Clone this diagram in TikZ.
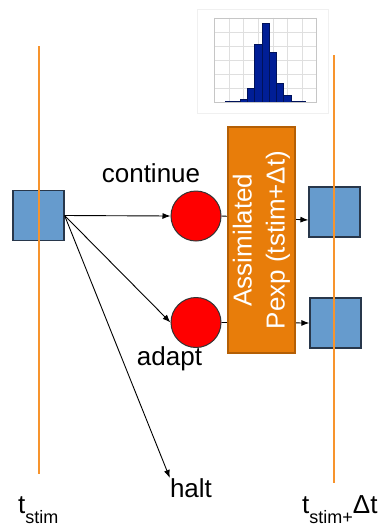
\documentclass[tikz,border=0pt]{standalone}
\usepackage{fontspec}
\setmainfont{Liberation Sans}
\usetikzlibrary{arrows.meta}
\definecolor{timeline}{RGB}{247,148,45}
\definecolor{boxblue}{RGB}{102,155,205}
\definecolor{boxedge}{RGB}{40,55,75}
\definecolor{assim}{RGB}{232,125,10}
\definecolor{assimedge}{RGB}{180,95,5}
\definecolor{barblue}{RGB}{0,30,150}
\tikzset{
  state/.style={draw=boxedge, line width=1.2pt, fill=boxblue, minimum width=51pt, minimum height=50pt, inner sep=0pt},
  choice/.style={circle, draw=black!80, line width=1pt, fill=red, minimum size=50pt, inner sep=0pt},
  lbl/.style={inner sep=0pt, font=\fontsize{26}{30}\selectfont},
  tl/.style={timeline, line width=2pt},
  flow/.style={-{Latex[length=8pt,width=6pt]}, line width=0.9pt},
  grid/.style={gray!25, line width=0.4pt},
  bar/.style={fill=barblue, draw=barblue!60!black, line width=0.3pt}
}
\newcommand{\subtxt}[1]{{\fontsize{18}{18}\selectfont\raisebox{-10pt}{#1}}}
\begin{document}
\begin{tikzpicture}[x=1pt,y=-1pt]
\useasboundingbox (0,0) rectangle (382,528);

% histogram inset
\draw[gray!12, fill=white] (197,9) rectangle (328,113);
\foreach \gx in {214,228.7,243.3,258,272.7,287.3,302,315.7}
  \draw[grid] (\gx,17.7) -- (\gx,102.3);
\foreach \gy in {17.7,31.7,45.7,60,74,88.3,102.3}
  \draw[grid] (214,\gy) -- (315.7,\gy);
\foreach \h [count=\i from 0] in {1,1.3,3.3,13.7,58.3,79.3,50.3,18.7,6.7,1,0.7}
  \draw[bar] ({225+7.33*\i},102.3) rectangle ({225+7.33*(\i+1)},{102.3-\h});
\draw[gray!45, line width=0.4pt] (214,17.7) rectangle (315.7,102.3);

% states and choices
\node[state] (s0) at (38.5,215.5) {};
\node[state] (s1) at (334.5,212) {};
\node[state] (s2) at (335.5,323) {};
\node[choice] (c1) at (196,216) {};
\node[choice] (c2) at (196,322.5) {};

% labels
\node[lbl, anchor=base] (lcont) at (151,182) {continue};
\node[lbl, anchor=base] (ladapt) at (169.5,365) {adapt};
\node[lbl, anchor=base] (lhalt) at (191,497) {halt};
\node[lbl, anchor=base west] (lt0) at (18,513) {t\subtxt{stim}};
\node[lbl, anchor=base west] (lt1) at (302,513) {t\subtxt{stim+}Δt};

% connectors
\draw[flow] (s0.east) -- (c1.west);
\draw[flow] (s0.east) -- (c2.west);
\draw[flow] (s0.east) -- (lhalt.north west);
\draw[flow] (c1.east) -- ([yshift=-8pt]s1.west);
\draw[flow] (c2.east) -- (s2.west);

% assimilation box on top of the connectors
\node[draw=assimedge, line width=1.5pt, fill=assim, minimum width=67pt, minimum height=226pt, inner sep=0pt] (assimbox) at (261.5,240) {};
\node[rotate=90, align=center, text=white, inner sep=0pt, font=\fontsize{26}{33}\selectfont] (assimtxt) at (261.5,240) {Assimilated\\Pexp (tstim+Δt)};

% time lines
\coordinate (t0top) at (38.5,46);
\coordinate (t0bot) at (38.5,474);
\coordinate (t1top) at (334,55);
\coordinate (t1bot) at (334,483);
\draw[tl] (t0top) -- (t0bot);
\draw[tl] (t1top) -- (t1bot);
\end{tikzpicture}
\end{document}
